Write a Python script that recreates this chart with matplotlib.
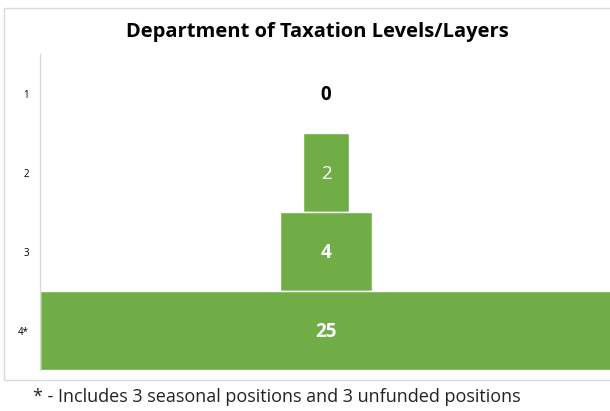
import matplotlib
matplotlib.use("Agg")
import matplotlib.pyplot as plt
from matplotlib.patches import Rectangle

levels = ["1", "2", "3", "4*"]
positions = [0, 2, 4, 25]
title = "Department of Taxation Levels/Layers"
footnote = "* - Includes 3 seasonal positions and 3 unfunded positions"

green = "#70AD47"
font = ["Open Sans", "DejaVu Sans"]

fig = plt.figure(figsize=(6.10, 4.11), dpi=100)

# chart frame
fig.patches.append(Rectangle((4 / 610, 1 - 380 / 411), 1.0, (380 - 8) / 411,
                             transform=fig.transFigure, fill=False,
                             edgecolor="#d9d9d9", linewidth=1.0))

ax = fig.add_axes([40 / 610, (411 - 370) / 411, 572 / 610, 316 / 411])
span = max(positions)
ys = list(range(len(levels)))
lefts = [(span - v) / 2 for v in positions]
ax.barh(ys, positions, left=lefts, height=1.0, color=green,
        edgecolor="white", linewidth=1.0)

for y, v in zip(ys, positions):
    if v == 0:
        ax.text(span / 2, y + 0.02, str(v), ha="center", va="center",
                color="black", fontsize=13.5, fontweight="bold", family=font)
    else:
        ax.text(span / 2, y + 0.02, str(v), ha="center", va="center",
                color="white", fontsize=13.5,
                fontweight="normal" if v == 2 else "bold", family=font)

ax.set_xlim(0, span)
ax.set_ylim(len(levels) - 0.5, -0.5)
ax.set_yticks(ys)
ax.set_yticklabels(levels, fontsize=7, family=font)
ax.tick_params(axis="y", length=0, pad=8)
ax.set_xticks([])
for side in ["top", "right", "bottom"]:
    ax.spines[side].set_visible(False)
ax.spines["left"].set_color("#d9d9d9")
ax.spines["left"].set_linewidth(1.0)

fig.text(317 / 610, 1 - 32 / 411, title, ha="center", va="center",
         fontsize=14.5, fontweight="bold", family=font)
fig.text(33 / 610, 1 - 397 / 411, footnote, ha="left", va="center",
         fontsize=13, color="#222222", family=font)

fig.savefig("out.png", dpi=100)
